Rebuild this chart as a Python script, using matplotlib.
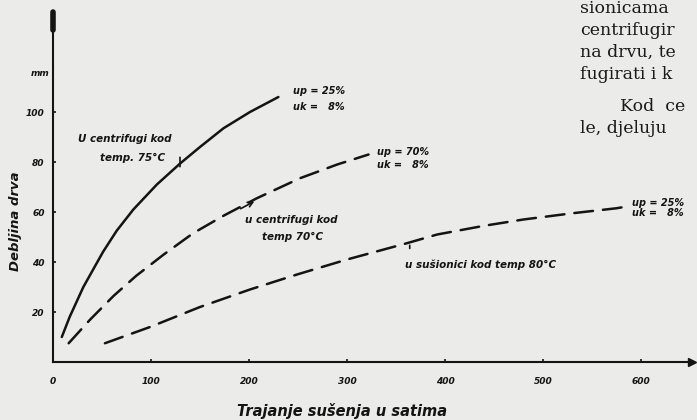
import matplotlib
matplotlib.use("Agg")
import matplotlib.pyplot as plt

# ---- data ----
x_ticks = [0, 100, 200, 300, 400, 500, 600]
y_ticks = [20, 40, 60, 80, 100]

solid_x = [9, 17, 31, 51, 65, 82, 106, 130, 150, 174, 201, 230]
solid_y = [10, 18, 30, 44, 52.5, 61, 71, 79.5, 86, 93.5, 100, 106]

c70_x = [16, 38, 62, 85, 113, 143, 174, 208, 252, 290, 322]
c70_y = [7.5, 17, 26.5, 34.5, 43, 51.5, 58.5, 65.5, 73.5, 79, 83]

kiln_x = [53, 99, 150, 201, 249, 300, 361, 392, 440, 480, 530, 575, 590]
kiln_y = [7.5, 14, 22, 29, 35, 41, 47.5, 51, 54.5, 57, 59.5, 61.5, 62.5]

book_lines = ["sionicama", "centrifugir", "na drvu, te", "fugirati i k", "Kod  ce", "le, djeluju"]

bg = "#ebebea"
ink = "#141414"
hand = dict(family="DejaVu Sans", fontweight="bold", fontstyle="italic", color=ink)

fig = plt.figure(figsize=(6.97, 4.2), dpi=100, facecolor=bg)
ax = fig.add_axes([0.0760, 0.1381, 0.9168, 0.8333])
ax.set_facecolor(bg)
ax.set_xlim(0, 652)
ax.set_ylim(0, 140)

for s in ["top", "right"]:
    ax.spines[s].set_visible(False)
for s in ["left", "bottom"]:
    ax.spines[s].set_linewidth(1.5)
    ax.spines[s].set_color(ink)

# axis ends
ax.plot([652], [0], marker=">", ms=6, color=ink, clip_on=False)
ax.plot([0, 0], [133, 140], lw=4, color=ink, solid_capstyle="round", clip_on=False)

ax.set_xticks(x_ticks)
ax.set_xticklabels([str(v) for v in x_ticks], fontsize=6.5, **hand)
ax.set_yticks(y_ticks)
ax.set_yticklabels([str(v) for v in y_ticks], fontsize=6.5, **hand)
ax.tick_params(axis="x", direction="in", length=2, width=1.2, color=ink, pad=11)
ax.tick_params(axis="y", direction="in", length=2, width=1.2, color=ink, pad=6)

ax.text(-3.5, 115.6, "mm", ha="right", va="center", fontsize=6.5, **hand)

# curves
ax.plot(solid_x, solid_y, color=ink, lw=1.8, solid_capstyle="round", solid_joinstyle="round")
ax.plot(c70_x, c70_y, color=ink, lw=1.8, dashes=(7.5, 4), dash_capstyle="round")
ax.plot(kiln_x, kiln_y, color=ink, lw=1.8, dashes=(7.5, 4), dash_capstyle="round")

# annotations
fs = 7.5
ax.text(25.5, 89.4, "U centrifugi kod", fontsize=fs, va="center", ha="left", **hand)
ax.text(48, 81.6, "temp. 75°C", fontsize=fs, va="center", ha="left", **hand)
ax.text(245, 108.4, "up = 25%", fontsize=fs - 0.5, va="center", ha="left", **hand)
ax.text(245, 102.2, "uk =   8%", fontsize=fs - 0.5, va="center", ha="left", **hand)

ax.text(196, 56.8, "u centrifugi kod", fontsize=fs, va="center", ha="left", **hand)
ax.text(213, 50, "temp 70°C", fontsize=fs, va="center", ha="left", **hand)
ax.text(331, 84, "up = 70%", fontsize=fs - 0.5, va="center", ha="left", **hand)
ax.text(331, 78.8, "uk =   8%", fontsize=fs - 0.5, va="center", ha="left", **hand)

ax.text(359, 38.8, "u sušionici kod temp 80°C", fontsize=fs, va="center", ha="left", **hand)
ax.text(591, 63.8, "up = 25%", fontsize=fs - 0.5, va="center", ha="left", **hand)
ax.text(591, 59.6, "uk =   8%", fontsize=fs - 0.5, va="center", ha="left", **hand)

# pointers
ax.annotate("", xy=(129.6, 77), xytext=(129.6, 83),
            arrowprops=dict(arrowstyle="-", color=ink, lw=1.2))
ax.annotate("", xy=(208, 64.8), xytext=(189, 60.8),
            arrowprops=dict(arrowstyle="->", color=ink, lw=1.2, mutation_scale=9))
ax.annotate("", xy=(364, 47.8), xytext=(364, 44.3),
            arrowprops=dict(arrowstyle="-", color=ink, lw=1.2))

# axis titles
fig.text(15 / 697, 1 - 221 / 420, "Debljina drva", rotation=90, ha="center", va="center",
         fontsize=9.5, **hand)
fig.text(342 / 697, 1 - 411 / 420, "Trajanje sušenja u satima", ha="center", va="center",
         fontsize=10.5, **hand)

# book page text on the right
baselines = [13, 35, 57, 79, 111, 133]
xs = [580, 580, 580, 580, 620, 580]
for t, b, xp in zip(book_lines, baselines, xs):
    fig.text(xp / 697, 1 - b / 420, t, ha="left", va="baseline",
             fontsize=12.5, family="DejaVu Serif", color="#1a1a1a")

fig.savefig("out.png", dpi=100, facecolor=bg)
